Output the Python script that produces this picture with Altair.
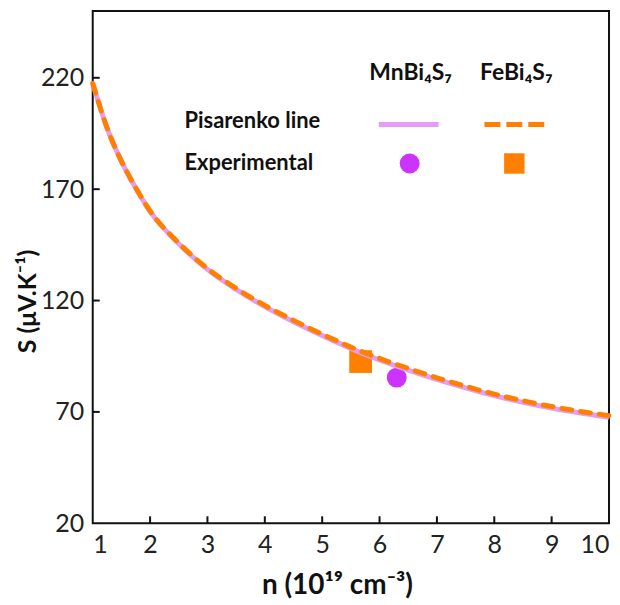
import altair as alt
import pandas as pd

# Pisarenko lines
n_curve = [1, 1.25, 1.5, 1.75, 2, 2.5, 3, 3.5, 4, 4.5, 5, 5.5, 6, 6.5, 7, 7.5, 8, 8.5, 9, 9.5, 10]
s_mn = [217.5, 197.5, 182.5, 170.5, 160.0, 145.5, 134.0, 125.0, 117.3, 110.5, 104.3, 98.5, 93.3, 88.8, 84.6, 80.8, 77.3, 74.3, 71.7, 69.5, 67.6]
s_fe = [217.5, 197.5, 182.6, 170.6, 160.2, 145.8, 134.4, 125.5, 117.8, 111.1, 104.9, 99.1, 94.0, 89.5, 85.3, 81.5, 78.0, 75.0, 72.4, 70.2, 68.3]

# Experimental points
exp_label = ["MnBi₄S₇", "FeBi₄S₇"]
exp_n = [6.30, 5.67]
exp_s = [85.4, 92.6]

x_ticks = [1, 2, 3, 4, 5, 6, 7, 8, 9, 10]
y_ticks = [20, 70, 120, 170, 220]

W, H = 518, 514
FONT = "Lato"
VIOLET_LINE = "#E59CF7"
VIOLET_PT = "#CC33FF"
ORANGE = "#FF8000"

curve_mn = pd.DataFrame({"n": n_curve, "S": s_mn})
curve_fe = pd.DataFrame({"n": n_curve, "S": s_fe})
pts = pd.DataFrame({"label": exp_label, "n": exp_n, "S": exp_s})

xs = alt.Scale(domain=[1, 10], nice=False, zero=False)
ys = alt.Scale(domain=[20, 250], nice=False, zero=False)

xaxis = alt.Axis(values=x_ticks, format="d", title="n (10¹⁹ cm⁻³)", grid=False, domain=False, ticks=False,
                 labelFont=FONT, labelFontSize=25, labelColor="#222", labelPadding=9,
                 labelFlush=True,
                 titleFont=FONT, titleFontSize=28, titleFontWeight="bold", titleColor="#111",
                 titleX=245, titleY=70, titleBaseline="alphabetic")
yaxis = alt.Axis(values=y_ticks, format="d", title="S (μV.K⁻¹)", grid=False, domain=False, ticks=False,
                 labelFont=FONT, labelFontSize=25, labelColor="#222", labelPadding=9,
                 labelFlush=False,
                 titleFont=FONT, titleFontSize=25, titleFontWeight="bold", titleColor="#111",
                 titleX=-57, titleY=291, titleBaseline="alphabetic")

base_x = alt.X("n:Q", scale=xs, axis=xaxis)
base_y = alt.Y("S:Q", scale=ys, axis=yaxis)

points = alt.Chart(pts).mark_point(filled=True, opacity=1).encode(
    x=base_x, y=base_y,
    shape=alt.Shape("label:N", scale=alt.Scale(domain=exp_label, range=["circle", "square"]), legend=None),
    color=alt.Color("label:N", scale=alt.Scale(domain=exp_label, range=[VIOLET_PT, ORANGE]), legend=None),
    size=alt.Size("label:N", scale=alt.Scale(domain=exp_label, range=[400, 520]), legend=None),
)

line_mn = alt.Chart(curve_mn).mark_line(color=VIOLET_LINE, strokeWidth=5, interpolate="monotone").encode(x=base_x, y=base_y)
line_fe = alt.Chart(curve_fe).mark_line(color=ORANGE, strokeWidth=5, strokeDash=[10, 9], strokeCap="round",
                                        interpolate="monotone").encode(x=base_x, y=base_y)

# inward ticks
xt = pd.DataFrame({"n": x_ticks[1:-1]})
yt = pd.DataFrame({"S": y_ticks[1:]})
xtick = alt.Chart(xt).mark_rule(color="#111", strokeWidth=2).encode(
    x=alt.X("n:Q", scale=xs), y=alt.value(H), y2=alt.value(H - 7))
ytick = alt.Chart(yt).mark_rule(color="#111", strokeWidth=2).encode(
    y=alt.Y("S:Q", scale=ys), x=alt.value(0), x2=alt.value(7))

# legend
def txt(s, x, y, align="left", size=21):
    return alt.Chart(pd.DataFrame({"t": [s]})).mark_text(
        font=FONT, fontSize=size, fontWeight="bold", align=align, baseline="middle", color="#111"
    ).encode(text="t:N", x=alt.value(x), y=alt.value(y))

leg = [
    txt("MnBi₄S₇", 319, 62, "center", 23),
    txt("FeBi₄S₇", 425, 62, "center", 23),
    txt("Pisarenko line", 92, 110, size=22),
    txt("Experimental", 92, 153, size=22),
    alt.Chart(pd.DataFrame({"a": [0]})).mark_rule(color=VIOLET_LINE, strokeWidth=5).encode(
        x=alt.value(287), x2=alt.value(347), y=alt.value(114)),
    alt.Chart(pd.DataFrame({"a": [0]})).mark_rule(color=ORANGE, strokeWidth=5, strokeDash=[16, 6]).encode(
        x=alt.value(393), x2=alt.value(453), y=alt.value(114)),
    alt.Chart(pd.DataFrame({"a": [0]})).mark_point(filled=True, opacity=1, shape="circle", size=400, color=VIOLET_PT).encode(
        x=alt.value(318), y=alt.value(153)),
    alt.Chart(pd.DataFrame({"a": [0]})).mark_point(filled=True, opacity=1, shape="square", size=420, color=ORANGE).encode(
        x=alt.value(423), y=alt.value(153)),
]

chart = alt.layer(points, line_mn, line_fe, xtick, ytick, *leg).properties(
    width=W, height=H,
    autosize=alt.AutoSizeParams(type="none"),
    padding={"left": 85, "top": 2, "right": 3, "bottom": 80},
).configure(
    background="white",
    view=alt.ViewConfig(stroke="#111", strokeWidth=2),
)

chart.save("out.html", embed_options={"renderer": "svg", "actions": False})
